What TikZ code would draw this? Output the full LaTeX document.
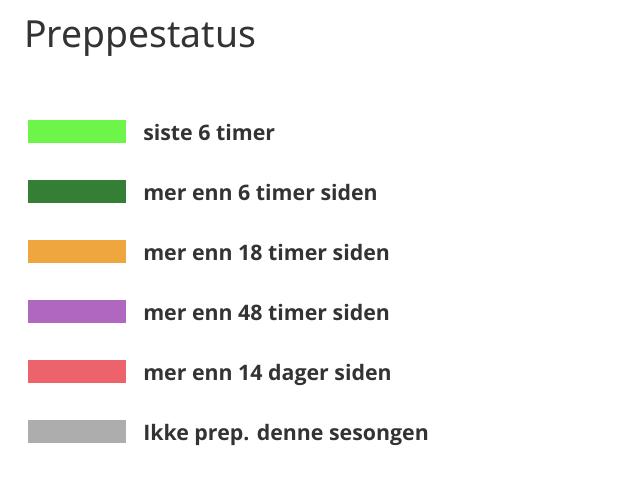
\documentclass[tikz,border=0pt]{standalone}
\usepackage{fontspec}
\setmainfont{Noto Sans}
\newfontfamily\lblfont{Open Sans}
\definecolor{txtgray}{HTML}{333333}
\definecolor{prepA}{HTML}{6EF54A}
\definecolor{prepB}{HTML}{357E35}
\definecolor{prepC}{HTML}{F0A63E}
\definecolor{prepD}{HTML}{AF67C0}
\definecolor{prepE}{HTML}{EC636C}
\definecolor{prepF}{HTML}{ADADAD}
\tikzset{
  swatch/.style={minimum width=73.5pt, minimum height=17.25pt, inner sep=0pt, anchor=north west},
  lbl/.style={anchor=base west, inner sep=0pt, text=txtgray, font=\lblfont\fontsize{16}{19}\selectfont\bfseries},
}
\begin{document}
\begin{tikzpicture}[x=0.75pt,y=-0.75pt]
      \useasboundingbox (0,0) rectangle (634,476);
      \node[anchor=base west, inner sep=0pt, text=txtgray, font=\fontsize{28}{33}\selectfont] (title) at (24,47) {Preppestatus};
      \node[swatch, fill=prepA] (sw1) at (28,120) {};
      \node[lbl] (lb1) at (143,140) {siste 6 timer};
      \node[swatch, fill=prepB] (sw2) at (28,180) {};
      \node[lbl] (lb2) at (143,200) {mer enn 6 timer siden};
      \node[swatch, fill=prepC] (sw3) at (28,240) {};
      \node[lbl] (lb3) at (143,260) {mer enn 18 timer siden};
      \node[swatch, fill=prepD] (sw4) at (28,300) {};
      \node[lbl] (lb4) at (143,320) {mer enn 48 timer siden};
      \node[swatch, fill=prepE] (sw5) at (28,360) {};
      \node[lbl] (lb5) at (143,380) {mer enn 14 dager siden};
      \node[swatch, fill=prepF] (sw6) at (28,420) {};
      \node[lbl] (lb6) at (143,440) {Ikke prep. denne sesongen};
\end{tikzpicture}
\end{document}
